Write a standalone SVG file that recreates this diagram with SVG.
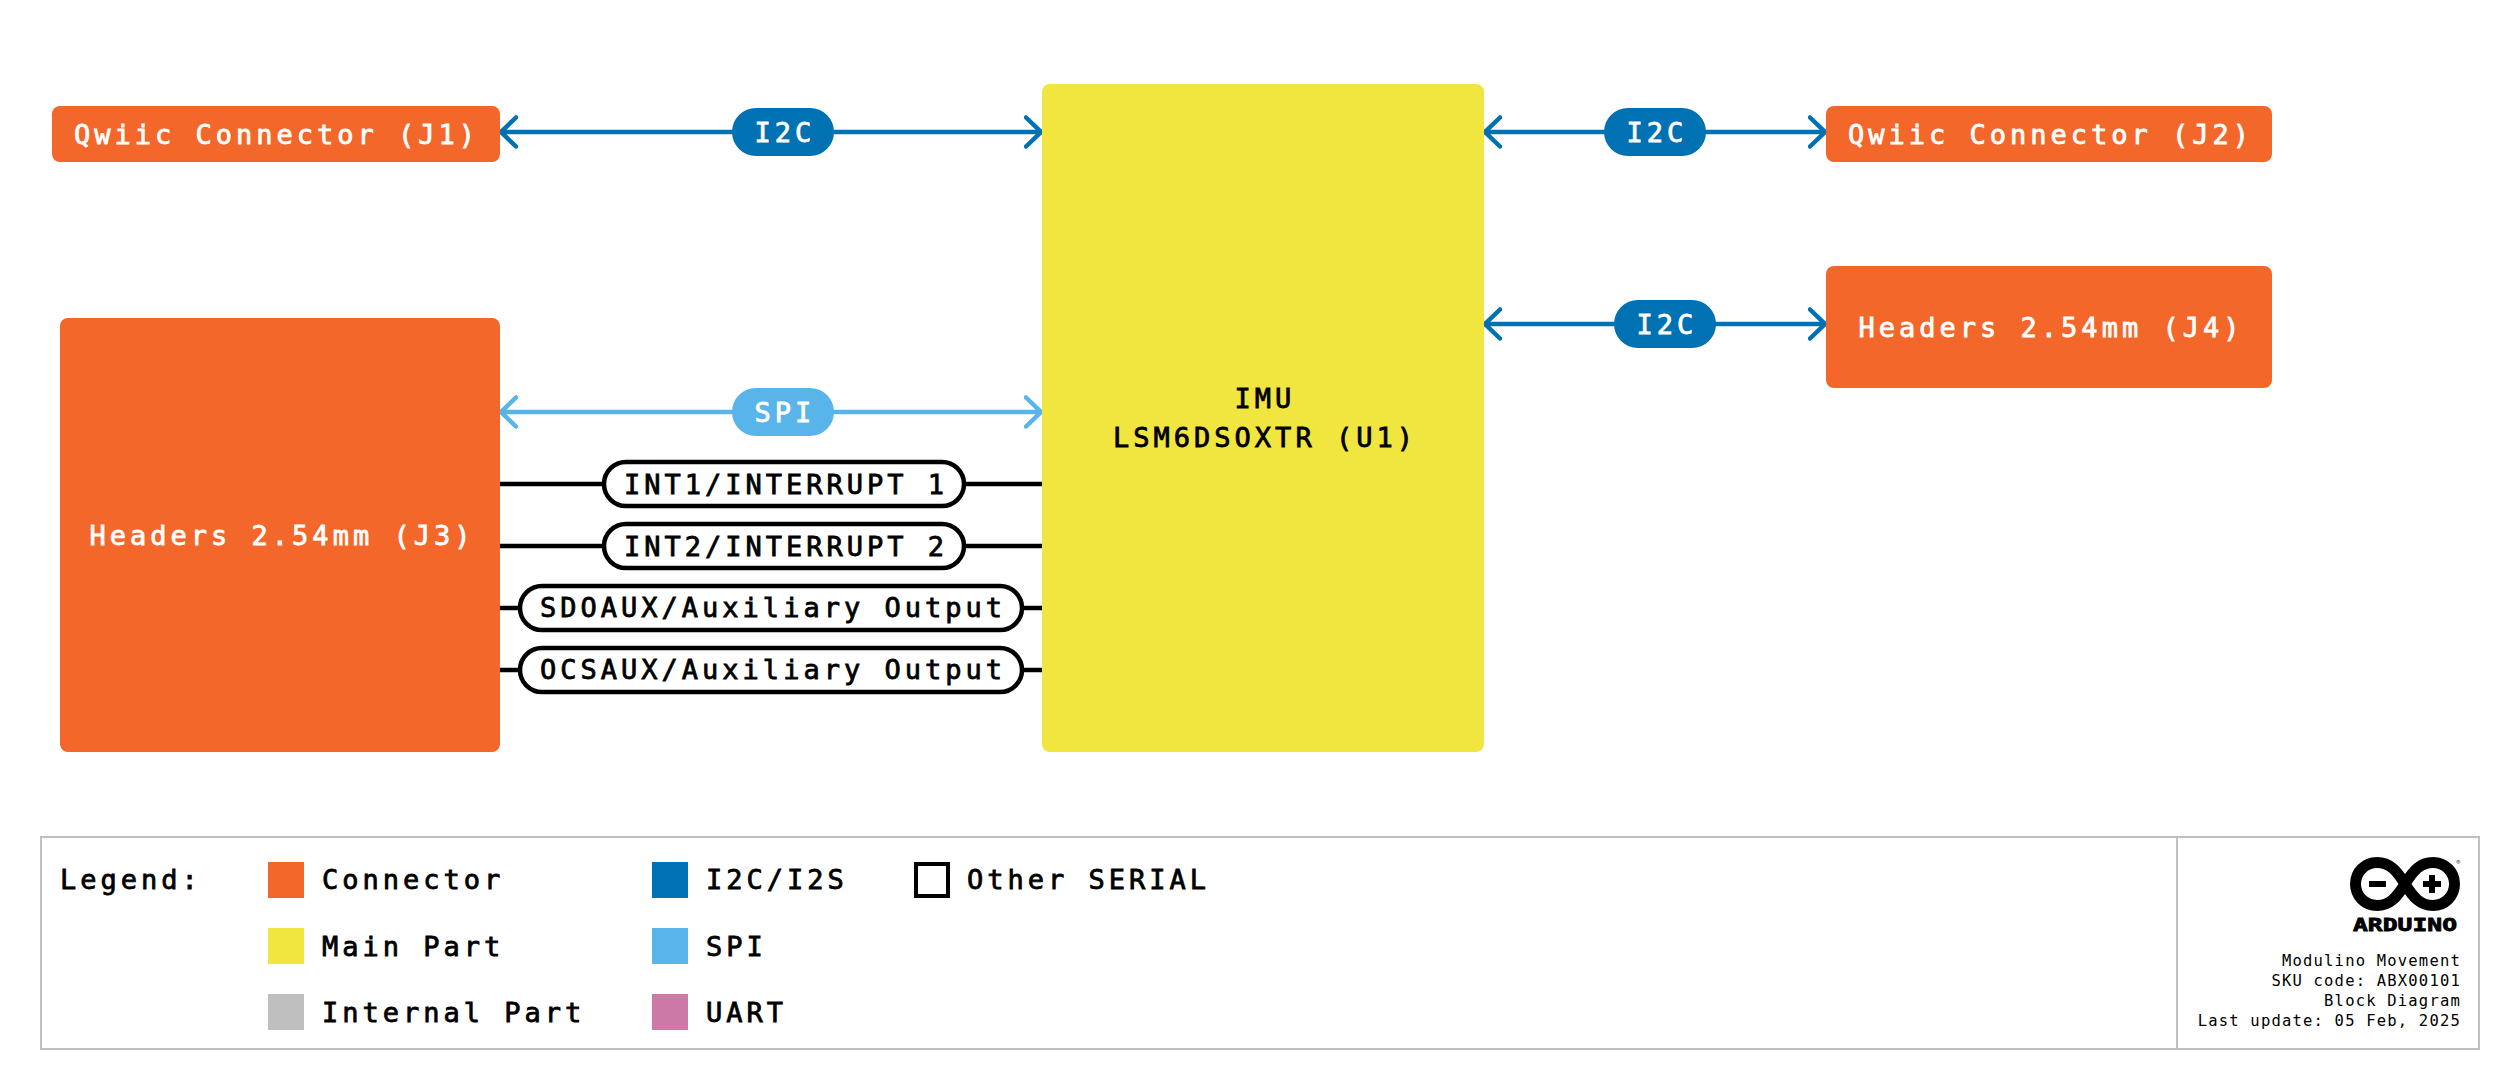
<svg xmlns="http://www.w3.org/2000/svg" width="2520" height="1090" viewBox="0 0 2520 1090">
<style>
text{font-family:"DejaVu Sans Mono","Liberation Mono",monospace;font-size:27px;letter-spacing:4px;fill:#000;stroke:#000;stroke-width:.8px}
.c{text-anchor:middle}
.w{fill:#fff;stroke:#fff}
.con{fill:#F4672A}
.main{fill:#F1E540}
.i2c{stroke:#0071B2;fill:none;stroke-width:4.5;stroke-linecap:round}
.spi{stroke:#58B4E9;fill:none;stroke-width:4.5;stroke-linecap:round}
.ser{stroke:#000;fill:none;stroke-width:4.5}
.pill{fill:#fff;stroke:#000;stroke-width:4.5}
.small{font-size:15.5px;letter-spacing:1.2px;text-anchor:end;stroke:none}
</style>
<defs>
<marker id="as" viewBox="-18 -17 20 34" markerUnits="userSpaceOnUse" markerWidth="20" markerHeight="34" refX="0" refY="0" orient="auto-start-reverse"><path d="M-16,-14.500L-1,0L-16,14.500" fill="none" stroke="#58B4E9" stroke-width="4.500" stroke-linecap="round"/></marker>
<marker id="ai" viewBox="-18 -17 20 34" markerUnits="userSpaceOnUse" markerWidth="20" markerHeight="34" refX="0" refY="0" orient="auto-start-reverse"><path d="M-16,-14.500L-1,0L-16,14.500" fill="none" stroke="#0071B2" stroke-width="4.500" stroke-linecap="round"/></marker>
</defs>
<rect width="2520" height="1090" fill="#fff"/>
<g id="connectors">
<path class="i2c" d="M500,132H1042" marker-start="url(#ai)" marker-end="url(#ai)"/>
<path class="i2c" d="M1484,132H1826" marker-start="url(#ai)" marker-end="url(#ai)"/>
<path class="i2c" d="M1484,324H1826" marker-start="url(#ai)" marker-end="url(#ai)"/>
<path class="spi" d="M500,412H1042" marker-start="url(#as)" marker-end="url(#as)"/>
<path class="ser" d="M500,484H1042M500,546H1042M500,608H1042M500,670H1042"/>
<g id="label-i2c-1"><rect x="732" y="108" width="102" height="48" rx="24" fill="#0071B2"/><text class="c w" x="785" y="142">I2C</text></g>
<g id="label-i2c-2"><rect x="1604" y="108" width="102" height="48" rx="24" fill="#0071B2"/><text class="c w" x="1657" y="142">I2C</text></g>
<g id="label-i2c-3"><rect x="1614" y="300" width="102" height="48" rx="24" fill="#0071B2"/><text class="c w" x="1667" y="334">I2C</text></g>
<g id="label-spi"><rect x="732" y="388" width="102" height="48" rx="24" fill="#58B4E9"/><text class="c w" x="785" y="422">SPI</text></g>
<g id="label-int1"><rect class="pill" x="604" y="462" width="360" height="44" rx="22"/><text class="c" x="786" y="494">INT1/INTERRUPT 1</text></g>
<g id="label-int2"><rect class="pill" x="604" y="524" width="360" height="44" rx="22"/><text class="c" x="786" y="556">INT2/INTERRUPT 2</text></g>
<g id="label-sdo"><rect class="pill" x="520" y="586" width="502" height="44" rx="22"/><text class="c" x="773" y="617">SDOAUX/Auxiliary Output</text></g>
<g id="label-ocs"><rect class="pill" x="520" y="648" width="502" height="44" rx="22"/><text class="c" x="773" y="679">OCSAUX/Auxiliary Output</text></g>
</g>
<g id="j1"><rect class="con" x="52" y="106" width="448" height="56" rx="8"/><text class="c w" x="276.500" y="144">Qwiic Connector (J1)</text></g>
<g id="j2"><rect class="con" x="1826" y="106" width="446" height="56" rx="8"/><text class="c w" x="2050.500" y="144">Qwiic Connector (J2)</text></g>
<g id="j4"><rect class="con" x="1826" y="266" width="446" height="122" rx="8"/><text class="c w" x="2051" y="337">Headers 2.54mm (J4)</text></g>
<g id="j3"><rect class="con" x="60" y="318" width="440" height="434" rx="8"/><text class="c w" x="282" y="545">Headers 2.54mm (J3)</text></g>
<g id="u1"><rect class="main" x="1042" y="84" width="442" height="668" rx="8"/><text class="c" x="1265" y="408">IMU</text><text class="c" x="1265" y="447">LSM6DSOXTR (U1)</text></g>
<g id="legend">
<rect x="41" y="837" width="2438" height="212" fill="none" stroke="#BFBFBF" stroke-width="2"/>
<path d="M2177,837V1049" stroke="#BFBFBF" stroke-width="2"/>
<text x="60" y="889">Legend:</text>
<rect class="con" x="268" y="862" width="36" height="36"/><text x="322" y="889">Connector</text>
<rect class="main" x="268" y="928" width="36" height="36"/><text x="322" y="956">Main Part</text>
<rect x="268" y="994" width="36" height="36" fill="#BFBFBF"/><text x="322" y="1022">Internal Part</text>
<rect x="652" y="862" width="36" height="36" fill="#0071B2"/><text x="706" y="889">I2C/I2S</text>
<rect x="652" y="928" width="36" height="36" fill="#58B4E9"/><text x="706" y="956">SPI</text>
<rect x="652" y="994" width="36" height="36" fill="#CC79A7"/><text x="706" y="1022">UART</text>
<rect x="916" y="864" width="32" height="32" fill="none" stroke="#000" stroke-width="4"/><text x="967" y="889">Other SERIAL</text>
</g>
<g id="logo">
<path d="M2405,884C2397,871 2390,862.500 2377,862.500C2365,862.500 2355.500,872 2355.500,884C2355.500,896 2365,905.500 2377,905.500C2390,905.500 2397,897 2405,884C2413,871 2420,862.500 2433,862.500C2445,862.500 2454.500,872 2454.500,884C2454.500,896 2445,905.500 2433,905.500C2420,905.500 2413,897 2405,884Z" fill="none" stroke="#000" stroke-width="11"/>
<path d="M2369,881H2386V887H2369ZM2429,875H2435V881H2441V887H2435V893H2429V887H2423V881H2429Z" fill="#000"/>
<text x="2353" y="931" textLength="104" lengthAdjust="spacingAndGlyphs" style="font-weight:700;font-size:18.500px;letter-spacing:0">ARDUINO</text>
<text x="2460" y="864" text-anchor="end" style="font-size:6px;letter-spacing:0;stroke:none">®</text>
<text class="small" x="2461" y="966">Modulino Movement</text>
<text class="small" x="2461" y="986">SKU code: ABX00101</text>
<text class="small" x="2461" y="1006">Block Diagram</text>
<text class="small" x="2461" y="1026">Last update: 05 Feb, 2025</text>
</g>
</svg>
